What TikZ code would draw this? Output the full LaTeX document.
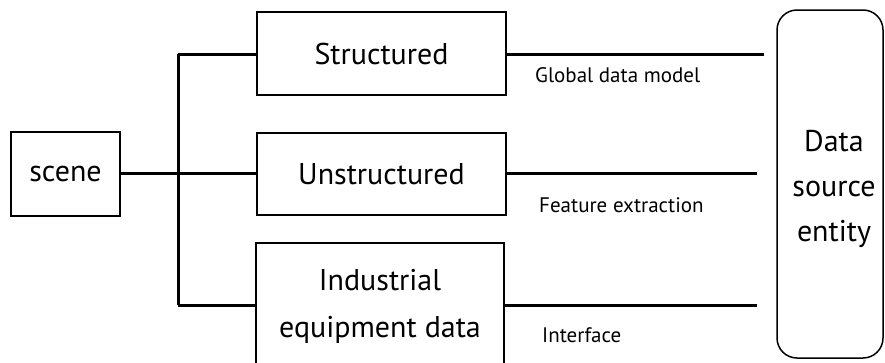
\documentclass[tikz,border=0pt]{standalone}
\usepackage{fontspec}
\setmainfont{PT Sans}
\begin{document}
\begin{tikzpicture}[x=1pt,y=-1pt,
  box/.style={draw,line width=2pt,inner sep=0pt,font=\fontsize{30}{46}\selectfont,align=center},
  conn/.style={line width=3pt},
  lbl/.style={font=\fontsize{21}{22}\selectfont,inner sep=0pt}]
\clip (0,0) rectangle (885,362);
\fill[white] (0,0) rectangle (885,362);
\node[box,minimum width=109pt,minimum height=84pt] (scene) at (65.5,174) {scene};
\node[box,minimum width=249pt,minimum height=83pt] (struct) at (381.5,53.5) {Structured};
\node[box,minimum width=249pt,minimum height=82pt] (unstruct) at (381.5,174) {Unstructured};
\node[box,minimum width=248pt,minimum height=140pt] (indust) at (380,313) {};
\node[font=\fontsize{30}{47}\selectfont,align=center] (indtext) at (380,306) {Industrial\\equipment data};
\node[draw,line width=1.5pt,rounded corners=20pt,minimum width=106pt,minimum height=348pt,inner sep=0pt] (dse) at (830,184) {};
\node[font=\fontsize{30}{45}\selectfont,align=center] (dsetext) at (834,189) {Data\\source\\entity};
\coordinate (bt) at (178,54);
\coordinate (bb) at (178,305);
\coordinate (bm) at (178,173);
\coordinate (e1) at (764,54);
\coordinate (e2) at (757,173);
\coordinate (e3) at (757,305);
\draw[conn] (bt) -- (bb);
\draw[conn] (scene.east |- bm) -- (unstruct.west |- bm);
\draw[conn] (bt) -- (struct.west |- bt);
\draw[conn] (bb) -- (indust.west |- bb);
\draw[conn] (struct.east |- e1) -- (e1);
\draw[conn] (unstruct.east |- e2) -- (e2);
\draw[conn] (indust.east |- e3) -- (e3);
\node[lbl,anchor=west] (l1) at (535,75) {Global data model};
\node[lbl,anchor=west] (l2) at (539,205) {Feature extraction};
\node[lbl,anchor=west] (l3) at (542,335) {Interface};
\end{tikzpicture}
\end{document}
